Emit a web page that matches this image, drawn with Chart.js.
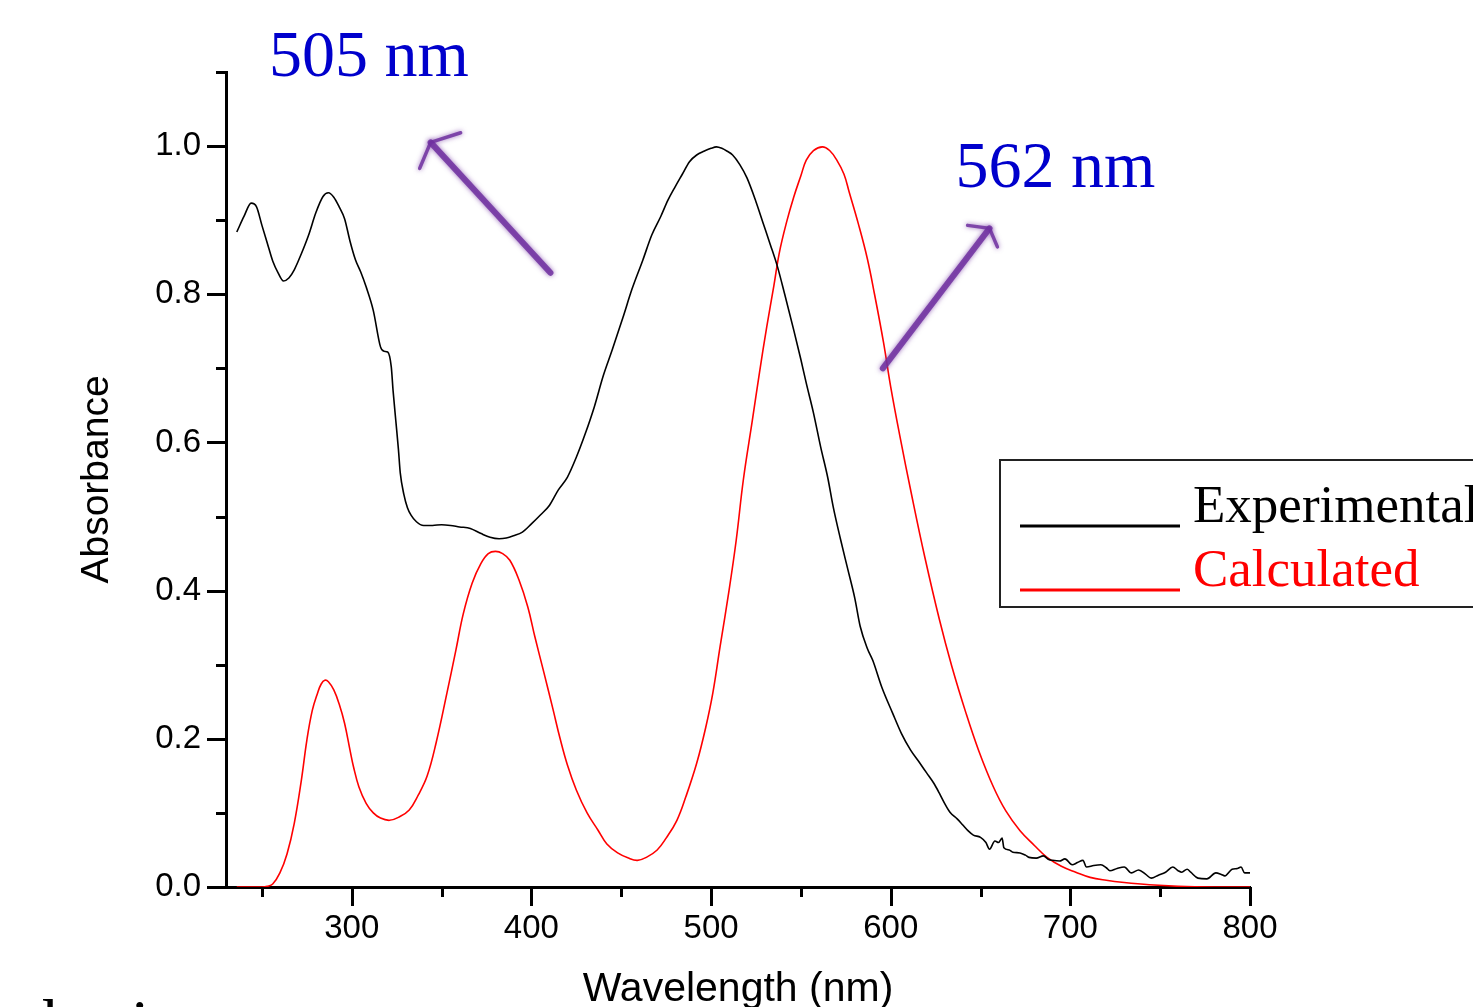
<!DOCTYPE html>
<html>
<head>
<meta charset="utf-8">
<title>Absorbance spectrum</title>
<script src="https://cdn.jsdelivr.net/npm/chart.js@4.4.1/dist/chart.umd.min.js"></script>
<style>
  html, body { margin: 0; padding: 0; background: #fff; overflow: hidden; }
  #wrap { width: 1473px; height: 1007px; position: relative; }
</style>
</head>
<body>
<div id="wrap"><canvas id="spectrum" width="1473" height="1007"></canvas></div>
<script>
// experimental spectrum (black)
var expWl = [236, 240, 244, 247, 250, 253, 256, 259, 262, 265, 268, 272, 276, 280, 284, 287, 290, 293, 296, 299,
  302, 305, 308, 312, 316, 318, 320, 322, 323, 324.5, 326, 327, 329, 331, 333, 336, 340, 345, 350, 355,
  360, 366, 372, 377, 382, 386, 390, 395, 400, 405, 410, 415, 420, 425, 430, 435, 440, 445, 451, 456,
  462, 467, 472, 476, 480, 484, 488, 492, 496, 500, 503, 506, 509, 512, 516, 520, 525, 529, 533, 537,
  541, 546, 550, 553, 557, 561, 565, 568, 572, 576, 580, 583, 587, 590, 595, 601, 606, 611, 616, 620,
  624, 627, 630, 633, 637, 640, 643, 646, 650, 653, 655, 658, 660, 662, 663, 666, 668, 672, 675, 677,
  681, 685, 688, 690, 694, 697, 701, 704, 707, 709, 713, 717, 720, 722, 726, 730, 734, 738, 742, 745,
  749, 753, 757, 760, 762, 765, 767, 771, 776, 781, 784, 786, 790, 793, 795, 797, 800];
var expAbs = [0.884, 0.905, 0.923, 0.918, 0.893, 0.869, 0.845, 0.829, 0.818, 0.822, 0.833, 0.855, 0.880, 0.910, 0.932, 0.937, 0.931, 0.918, 0.902, 0.872,
  0.847, 0.830, 0.810, 0.778, 0.729, 0.723, 0.722, 0.702, 0.670, 0.630, 0.590, 0.559, 0.530, 0.512, 0.502, 0.493, 0.488, 0.488, 0.489, 0.488,
  0.486, 0.484, 0.477, 0.472, 0.470, 0.471, 0.474, 0.479, 0.490, 0.502, 0.515, 0.536, 0.553, 0.580, 0.612, 0.648, 0.690, 0.725, 0.769, 0.807,
  0.846, 0.880, 0.905, 0.927, 0.945, 0.962, 0.979, 0.988, 0.993, 0.997, 0.999, 0.997, 0.993, 0.988, 0.975, 0.957, 0.925, 0.896, 0.867, 0.837,
  0.800, 0.752, 0.712, 0.680, 0.640, 0.594, 0.552, 0.513, 0.470, 0.430, 0.390, 0.352, 0.322, 0.306, 0.270, 0.235, 0.207, 0.185, 0.168, 0.154,
  0.140, 0.127, 0.113, 0.101, 0.092, 0.084, 0.076, 0.070, 0.067, 0.060, 0.051, 0.062, 0.060, 0.066, 0.053, 0.050, 0.047, 0.046, 0.043, 0.040,
  0.039, 0.042, 0.037, 0.036, 0.035, 0.038, 0.030, 0.033, 0.036, 0.027, 0.029, 0.030, 0.026, 0.022, 0.025, 0.027, 0.019, 0.023, 0.017, 0.012,
  0.016, 0.020, 0.027, 0.022, 0.020, 0.024, 0.020, 0.012, 0.011, 0.019, 0.017, 0.015, 0.024, 0.025, 0.027, 0.019, 0.019];

// calculated spectrum (red)
var calcWl = [236, 240, 250, 253, 256, 260, 264, 268, 272, 275, 278, 281, 283, 285, 287, 290, 293, 296, 299, 301,
  304, 308, 312, 316, 321, 326, 332, 337, 342, 347, 353, 358, 362, 367, 372, 376, 380, 384, 388, 393,
  398, 402, 407, 412, 416, 420, 425, 431, 437, 442, 448, 454, 459, 464, 470, 475, 481, 486, 492, 497,
  501, 505, 510, 514, 518, 523, 527, 531, 535, 538, 542, 546, 550, 553, 557, 562, 566, 570, 574, 577,
  582, 587, 591, 596, 600, 605, 612, 619, 627, 634, 642, 649, 657, 664, 672, 680, 687, 695, 703, 711,
  720, 730, 744, 760, 780, 800];
var calcAbs = [0.000, 0.000, 0.000, 0.001, 0.004, 0.019, 0.045, 0.086, 0.145, 0.198, 0.238, 0.262, 0.274, 0.279, 0.277, 0.266, 0.247, 0.221, 0.185, 0.162,
  0.135, 0.113, 0.100, 0.093, 0.090, 0.094, 0.104, 0.124, 0.150, 0.195, 0.262, 0.320, 0.368, 0.410, 0.437, 0.450, 0.453, 0.450, 0.441, 0.415,
  0.378, 0.337, 0.289, 0.240, 0.200, 0.165, 0.131, 0.100, 0.077, 0.058, 0.046, 0.039, 0.036, 0.040, 0.050, 0.066, 0.090, 0.122, 0.167, 0.215,
  0.262, 0.324, 0.400, 0.468, 0.550, 0.630, 0.695, 0.756, 0.812, 0.856, 0.897, 0.931, 0.960, 0.981, 0.994, 0.999, 0.994, 0.981, 0.962, 0.937,
  0.895, 0.848, 0.800, 0.735, 0.675, 0.610, 0.525, 0.445, 0.362, 0.298, 0.234, 0.184, 0.136, 0.103, 0.076, 0.056, 0.040, 0.028, 0.020, 0.013,
  0.009, 0.006, 0.003, 0.001, 0.000, 0.000];

var xTicks = [250, 300, 350, 400, 450, 500, 550, 600, 650, 700, 750, 800];
var xLabelled = [300, 400, 500, 600, 700, 800];
var yTicks = [0, 0.1, 0.2, 0.3, 0.4, 0.5, 0.6, 0.7, 0.8, 0.9, 1.0, 1.1];
var yLabelled = [0, 0.2, 0.4, 0.6, 0.8, 1.0];

var seriesNames = ['Experimental', 'Calculated'];
var seriesColors = ['#000000', '#ff0000'];

function pairs(xs, ys) {
  return xs.map(function (x, i) { return { x: x, y: ys[i] }; });
}
function isLabelled(list, v) {
  return list.some(function (l) { return Math.abs(l - v) < 1e-6; });
}

// major / minor tick marks drawn by hand (Chart.js has one tick length per axis)
var tickMarks = {
  id: 'tickMarks',
  afterDraw: function (chart) {
    var ctx = chart.ctx, xs = chart.scales.x, ys = chart.scales.y, a = chart.chartArea;
    ctx.save();
    ctx.strokeStyle = '#000';
    ctx.lineWidth = 3;
    ctx.beginPath();
    ys.ticks.forEach(function (t) {
      var py = Math.round(ys.getPixelForValue(t.value)) + 0.5;
      var len = isLabelled(yLabelled, t.value) ? 19 : 10;
      ctx.moveTo(a.left - len, py);
      ctx.lineTo(a.left, py);
    });
    xs.ticks.forEach(function (t) {
      var px = Math.round(xs.getPixelForValue(t.value)) + 0.5;
      var len = isLabelled(xLabelled, t.value) ? 19 : 10;
      ctx.moveTo(px, a.bottom);
      ctx.lineTo(px, a.bottom + len);
    });
    ctx.stroke();
    ctx.restore();
  }
};

function arrow(ctx, xs, ys, tail, tip, arm1, arm2) {
  var P = function (p) { return [xs.getPixelForValue(p[0]), ys.getPixelForValue(p[1])]; };
  var t0 = P(tail), t1 = P(tip), h1 = P(arm1), h2 = P(arm2);
  ctx.save();
  ctx.strokeStyle = 'rgba(112, 48, 160, 0.85)';
  ctx.shadowColor = 'rgba(112, 48, 160, 0.8)';
  ctx.shadowBlur = 5;
  ctx.lineCap = 'round';
  ctx.lineWidth = 6;
  ctx.beginPath();
  ctx.moveTo(t0[0], t0[1]);
  ctx.lineTo(t1[0], t1[1]);
  ctx.stroke();
  ctx.lineWidth = 3.5;
  ctx.beginPath();
  ctx.moveTo(h1[0], h1[1]);
  ctx.lineTo(t1[0], t1[1]);
  ctx.lineTo(h2[0], h2[1]);
  ctx.stroke();
  ctx.restore();
}

// peak labels, arrows, legend box and the cut-off slide text
var decorations = {
  id: 'decorations',
  afterDraw: function (chart) {
    var ctx = chart.ctx, xs = chart.scales.x, ys = chart.scales.y;

    ctx.save();
    ctx.fillStyle = '#0000cc';
    ctx.font = '66px "Liberation Serif", "Times New Roman", serif';
    ctx.textBaseline = 'alphabetic';
    ctx.textAlign = 'left';
    ctx.fillText('505 nm', xs.getPixelForValue(253.9), ys.getPixelForValue(1.094));
    ctx.fillText('562 nm', xs.getPixelForValue(636.1), ys.getPixelForValue(0.945));
    ctx.restore();

    arrow(ctx, xs, ys, [410.6, 0.829], [343.9, 1.005], [360.6, 1.018], [337.8, 0.970]);
    arrow(ctx, xs, ys, [595.6, 0.700], [655.0, 0.889], [642.8, 0.893], [659.4, 0.864]);

    // legend
    ctx.save();
    ctx.strokeStyle = '#222';
    ctx.lineWidth = 2;
    ctx.strokeRect(1000, 460, 520, 147);
    var rows = [526, 590];
    ctx.font = '53px "Liberation Serif", "Times New Roman", serif';
    ctx.textBaseline = 'alphabetic';
    chart.data.datasets.forEach(function (ds, i) {
      ctx.strokeStyle = ds.borderColor;
      ctx.lineWidth = 3;
      ctx.beginPath();
      ctx.moveTo(1020, rows[i]);
      ctx.lineTo(1180, rows[i]);
      ctx.stroke();
      ctx.fillStyle = ds.borderColor;
      ctx.fillText(ds.label, 1193, rows[i] - 4);
    });
    ctx.restore();

    ctx.save();
    ctx.fillStyle = '#000';
    ctx.font = '66px "Liberation Serif", "Times New Roman", serif';
    ctx.fillText('basic', 43, 1045);
    ctx.restore();
  }
};

var ctx = document.getElementById('spectrum');
var chart = new Chart(ctx, {
  type: 'line',
  data: {
    datasets: [
      {
        label: seriesNames[0],
        data: pairs(expWl, expAbs),
        borderColor: seriesColors[0],
        borderWidth: 1.6,
        pointRadius: 0,
        fill: false,
        cubicInterpolationMode: 'monotone'
      },
      {
        label: seriesNames[1],
        data: pairs(calcWl, calcAbs),
        borderColor: seriesColors[1],
        borderWidth: 1.6,
        pointRadius: 0,
        fill: false,
        tension: 0.4
      }
    ]
  },
  options: {
    responsive: false,
    animation: false,
    devicePixelRatio: 1,
    layout: { padding: { top: 72, right: 223, left: 0, bottom: 0 } },
    plugins: {
      legend: { display: false },
      tooltip: { enabled: false }
    },
    scales: {
      x: {
        type: 'linear',
        min: 230,
        max: 800,
        afterBuildTicks: function (s) { s.ticks = xTicks.map(function (v) { return { value: v }; }); },
        afterFit: function (s) { s.height = 120; },
        border: { display: true, color: '#000', width: 3 },
        grid: { display: true, drawOnChartArea: false, drawTicks: true, tickLength: 19, tickColor: 'rgba(0,0,0,0)' },
        ticks: {
          autoSkip: false,
          maxRotation: 0,
          padding: 3,
          color: '#000',
          font: { family: '"Liberation Sans", Arial, sans-serif', size: 33 },
          callback: function (v) { return isLabelled(xLabelled, v) ? String(v) : ''; }
        },
        title: {
          display: true,
          text: 'Wavelength (nm)',
          color: '#000',
          font: { family: '"Liberation Sans", Arial, sans-serif', size: 41, lineHeight: 0.85 },
          padding: { top: 0, bottom: 0 }
        }
      },
      y: {
        type: 'linear',
        min: 0,
        max: 1.1,
        afterBuildTicks: function (s) { s.ticks = yTicks.map(function (v) { return { value: v }; }); },
        afterFit: function (s) { s.width = 226; },
        border: { display: true, color: '#000', width: 3 },
        grid: { display: true, drawOnChartArea: false, drawTicks: true, tickLength: 19, tickColor: 'rgba(0,0,0,0)' },
        ticks: {
          autoSkip: false,
          padding: 6,
          color: '#000',
          font: { family: '"Liberation Sans", Arial, sans-serif', size: 33 },
          callback: function (v) { return isLabelled(yLabelled, v) ? v.toFixed(1) : ''; }
        },
        title: {
          display: true,
          text: 'Absorbance',
          color: '#000',
          font: { family: '"Liberation Sans", Arial, sans-serif', size: 39, lineHeight: 1 },
          padding: { top: 78, bottom: 0 }
        }
      }
    }
  },
  plugins: [tickMarks, decorations]
});
</script>
</body>
</html>
